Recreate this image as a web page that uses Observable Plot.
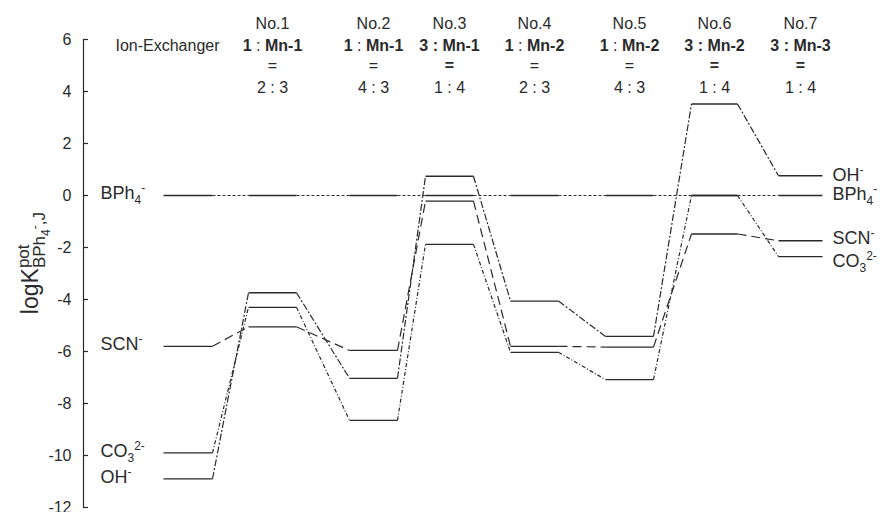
<!DOCTYPE html>
<html><head><meta charset="utf-8">
<script src="https://cdn.jsdelivr.net/npm/d3@7"></script>
<script src="https://cdn.jsdelivr.net/npm/@observablehq/plot@0.6"></script>
<style>
body{margin:0;background:#fff}
#chart svg{font-family:"Liberation Sans",Arial,sans-serif;}
</style>
</head><body><div id="chart"></div>
<script>
// ---- data ----
const ions = ["OH", "CO3", "SCN", "BPh4"];
const OH   = [-10.9, -3.74, -7.03, 0.74, -4.06, -5.42, 3.52, 0.76];
const CO3  = [-9.9, -4.30, -8.65, -1.88, -6.03, -7.08, 0.00, -2.35];
const SCN  = [-5.8, -5.05, -5.96, -0.22, -5.80, -5.83, -1.48, -1.74];
const BPh4 = [0, 0, 0, 0, 0, 0, 0, 0];
const exchangerNo = ["No.1", "No.2", "No.3", "No.4", "No.5", "No.6", "No.7"];
const exchangerPair = ["1 : Mn-1", "1 : Mn-1", "3 : Mn-1", "1 : Mn-2", "1 : Mn-2", "3 : Mn-2", "3 : Mn-3"];
const exchangerRatio = ["2 : 3", "4 : 3", "1 : 4", "2 : 3", "4 : 3", "1 : 4", "1 : 4"];
const yTicks = [6, 4, 2, 0, -2, -4, -6, -8, -10, -12];

// ---- layout (not data) ----
const colStart = [163, 248, 349, 425, 510, 605, 691, 778];
const colEnd   = [212, 296, 397, 473, 558, 653, 737, 822];
const colMid = colStart.map((s, i) => (s + colEnd[i]) / 2);
const headerRows = [6.62, 5.77, 5.0, 4.15];
const dashes = {OH: "7,2,2,2", CO3: "4,2,1,2", SCN: "9,5", BPh4: "3,2"};
const rightDy = {OH: -1, CO3: 5, SCN: -3, BPh4: -1};
const ink = "#2a2a2a";

const seriesVals = {OH, CO3, SCN, BPh4};
const levels = [], connectors = [];
for (const ion of ions) {
  const v = seriesVals[ion];
  v.forEach((val, i) => {
    levels.push({ion, x1: colStart[i], x2: colEnd[i], y: val});
    if (i < v.length - 1) connectors.push({ion, x1: colEnd[i], x2: colStart[i + 1], y1: val, y2: v[i + 1]});
  });
}
const leftLabels = ions.map(ion => ({ion, y: seriesVals[ion][0]}));
const rightLabels = ions.map(ion => ({ion, y: seriesVals[ion][7]}));
const headers = exchangerNo.map((no, i) => ({no, pair: exchangerPair[i], ratio: exchangerRatio[i], x: colMid[i + 1]}));

const marks = [
  Plot.ruleX([83], {y1: -12, y2: 6, stroke: ink, strokeWidth: 1.2}),
  Plot.ruleY(yTicks, {y: d => d, x1: 83, x2: 88, stroke: ink, strokeWidth: 1.2}),
  Plot.axisY({ticks: yTicks, tickSize: 0, tickPadding: 12, tickFormat: d => String(d), fontSize: 16, label: null, fill: ink})
];
for (const ion of ions) {
  marks.push(Plot.link(connectors.filter(d => d.ion === ion), {x1: "x1", x2: "x2", y1: "y1", y2: "y2", stroke: ink, strokeWidth: 1.2, strokeDasharray: dashes[ion]}));
}
marks.push(Plot.link(levels, {x1: "x1", x2: "x2", y1: "y", y2: "y", stroke: ink, strokeWidth: 1.3}));
for (const ion of ions) {
  marks.push(Plot.text(rightLabels.filter(d => d.ion === ion), {x: 832, y: "y", text: "ion", textAnchor: "start", fontSize: 18, dy: rightDy[ion], fill: ink}));
}
marks.push(
  Plot.text(leftLabels, {x: 100, y: "y", text: "ion", textAnchor: "start", fontSize: 18, dy: -2, fill: ink}),
  Plot.text(headers, {x: "x", y: headerRows[0], text: "no", fontSize: 16, fill: ink}),
  Plot.text(headers, {x: "x", y: headerRows[1], text: "pair", fontSize: 16, fill: ink}),
  Plot.text(headers, {x: "x", y: headerRows[2], text: d => d.pair.startsWith("3") ? "=*" : "=", fontSize: 16, fill: ink}),
  Plot.text(headers, {x: "x", y: headerRows[3], text: "ratio", fontSize: 16, fill: ink}),
  Plot.text(["Ion-Exchanger"], {x: 167, y: headerRows[1], text: d => d, fontSize: 16, fill: ink}),
  Plot.text(["logKlabel"], {x: 30, y: -2.6, text: d => d, rotate: -90, fontSize: 23, fill: ink})
);

const plot = Plot.plot({
  width: 883, height: 512,
  marginLeft: 83, marginRight: 0, marginTop: 39, marginBottom: 5,
  x: {domain: [83, 883], axis: null},
  y: {domain: [-12, 6], axis: null},
  style: {fontFamily: "'Liberation Sans', Arial, sans-serif", background: "#fff", color: ink},
  marks
});
document.getElementById("chart").appendChild(plot);

// ---- rich text (sub/superscripts, bold) ----
function richify(el, parts) {
  const sel = d3.select(el);
  sel.text(null);
  let cur = 0, prev = null;
  for (const p of parts) {
    const ts = sel.append("tspan").text(p.t);
    const off = p.off || 0;
    ts.attr("dy", off - cur);
    if (p.size) ts.attr("font-size", p.size);
    if (p.bold) ts.attr("font-weight", "bold");
    if (p.back && prev) ts.attr("dx", -prev.node().getComputedTextLength());
    cur = off; prev = ts;
  }
}
const ionParts = {
  OH: [{t: "OH"}, {t: "-", off: -7, size: 12}],
  CO3: [{t: "CO"}, {t: "3", off: 5, size: 12}, {t: "2-", off: -7, size: 12}],
  SCN: [{t: "SCN"}, {t: "-", off: -7, size: 12}],
  BPh4: [{t: "BPh"}, {t: "4", off: 5, size: 12}, {t: "-", off: -7, size: 12}]
};
d3.select(plot).selectAll("text").each(function () {
  const s = this.textContent;
  if (ionParts[s]) richify(this, ionParts[s]);
  else if (/^[13] : Mn-\d$/.test(s)) {
    const allBold = s.startsWith("3");
    const [a, b] = s.split(" : ");
    richify(this, [{t: a, bold: true}, {t: " : ", bold: allBold}, {t: b, bold: true}]);
  } else if (s === "=*") richify(this, [{t: "=", bold: true}]);
  else if (s === "logKlabel") richify(this, [
    {t: "logK"}, {t: "pot", off: -9, size: 17}, {t: "BPh", off: 7, size: 17, back: true},
    {t: "4", off: 12, size: 12}, {t: "-", off: 1, size: 12}, {t: ",J", off: 7, size: 17}
  ]);
});
</script>
</body></html>
